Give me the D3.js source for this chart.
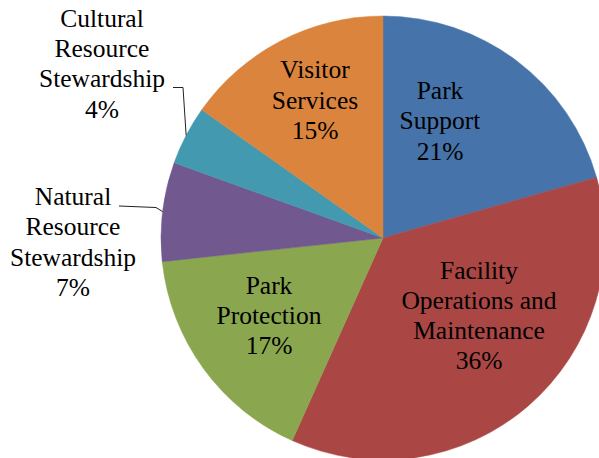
<!DOCTYPE html>
<html>
<head>
<meta charset="utf-8">
<script src="https://cdn.jsdelivr.net/npm/d3@7"></script>
<style>
  body { margin: 0; background: #fff; }
</style>
</head>
<body>
<div id="chart"></div>
<script>
var categories = ['Park Support', 'Facility Operations and Maintenance', 'Park Protection',
  'Natural Resource Stewardship', 'Cultural Resource Stewardship', 'Visitor Services'];
var values = [20.6, 36.1, 16.6, 7.2, 4.3, 15.2];
var labelLines = [
  ['Park', 'Support'],
  ['Facility', 'Operations and', 'Maintenance'],
  ['Park', 'Protection'],
  ['Natural', 'Resource', 'Stewardship'],
  ['Cultural', 'Resource', 'Stewardship'],
  ['Visitor', 'Services']
];
var colors = ['#4673A9', '#AA4644', '#8AA64F', '#71588F', '#4299B0', '#DB843D'];

var width = 599, height = 458;
var cx = 383, cy = 238, r = 222;
var lineH = 30.3;
var font = "'Liberation Serif', Tinos, 'Times New Roman', Times, 'DejaVu Serif', serif";

// where each label block sits (x centre, first baseline), and whether it gets a leader
var labelAt = [
  {x: 440, y: 99},
  {x: 479, y: 278.5},
  {x: 269, y: 293.5},
  {x: 73, y: 205, leader: [[119, 206], [156, 207.5]]},
  {x: 102, y: 26.7, leader: [[173, 87.5], [183, 87.5]]},
  {x: 315, y: 78.3}
];

var data = categories.map(function(c, i) {
  return {name: c, value: values[i], lines: labelLines[i]};
});

var pie = d3.pie().sort(null).value(function(d) { return d.value; });
var arc = d3.arc().innerRadius(0).outerRadius(r);
var edge = d3.arc().innerRadius(r).outerRadius(r);

var svg = d3.select('#chart').append('svg')
  .attr('width', width)
  .attr('height', height);

var g = svg.append('g').attr('transform', 'translate(' + cx + ',' + cy + ')');
var arcs = pie(data);

g.selectAll('path.slice')
  .data(arcs)
  .enter().append('path')
  .attr('class', 'slice')
  .attr('d', arc)
  .attr('fill', function(d, i) { return colors[i]; })
  .attr('stroke', function(d, i) { return colors[i]; })
  .attr('stroke-width', 0.5);

// leader lines go from the label to the middle of the slice's rim
arcs.forEach(function(d, i) {
  var lay = labelAt[i];
  if (!lay.leader) return;
  var p = edge.centroid(d);
  var pts = lay.leader.concat([[cx + p[0], cy + p[1]]]);
  svg.append('path')
    .attr('d', d3.line()(pts))
    .attr('fill', 'none')
    .attr('stroke', '#222')
    .attr('stroke-width', 1);
});

var labels = svg.selectAll('text.lbl')
  .data(data)
  .enter().append('text')
  .attr('class', 'lbl')
  .attr('text-anchor', 'middle')
  .attr('font-family', font)
  .attr('font-size', 25.5)
  .attr('fill', '#000');

labels.each(function(d, i) {
  var t = d3.select(this);
  var lay = labelAt[i];
  var rows = d.lines.concat([Math.round(d.value) + '%']);
  rows.forEach(function(s, k) {
    t.append('tspan')
      .attr('x', lay.x)
      .attr('y', lay.y + k * lineH)
      .text(s);
  });
});
</script>
</body>
</html>
